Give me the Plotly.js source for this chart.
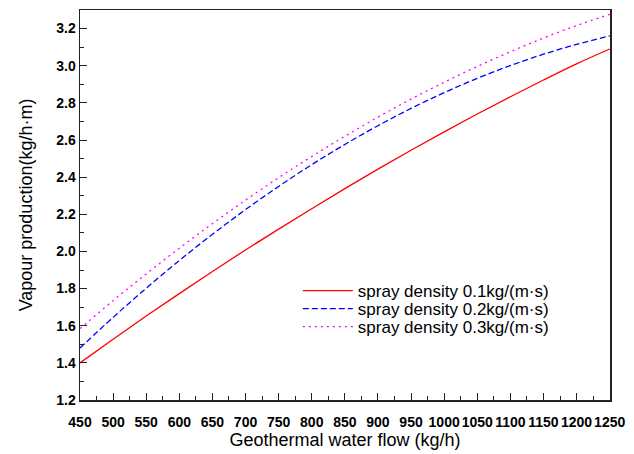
<!DOCTYPE html>
<html>
<head>
<meta charset="utf-8">
<script src="https://cdn.plot.ly/plotly-3.0.1.min.js"></script>
<style>html,body{margin:0;padding:0;background:#fff;}#chart{width:634px;height:454px;}</style>
</head>
<body>
<div id="chart"></div>
<script>
// Data
const flow = [450, 500, 550, 600, 650, 700, 750, 800, 850, 900, 950, 1000, 1050, 1100, 1150, 1200, 1250];
const density01 = [1.400, 1.527, 1.652, 1.773, 1.892, 2.008, 2.120, 2.230, 2.338, 2.443, 2.545, 2.644, 2.740, 2.833, 2.923, 3.010, 3.090];
const density02 = [1.480, 1.645, 1.802, 1.951, 2.092, 2.225, 2.350, 2.467, 2.576, 2.677, 2.770, 2.855, 2.932, 3.001, 3.062, 3.115, 3.160];
const density03 = [1.585, 1.735, 1.879, 2.017, 2.150, 2.276, 2.397, 2.511, 2.620, 2.723, 2.820, 2.911, 2.996, 3.075, 3.149, 3.216, 3.277];
const seriesNames = ["spray density 0.1kg/(m\u00b7s)", "spray density 0.2kg/(m\u00b7s)", "spray density 0.3kg/(m\u00b7s)"];
const xTickVals = [450, 500, 550, 600, 650, 700, 750, 800, 850, 900, 950, 1000, 1050, 1100, 1150, 1200, 1250];
const yTickVals = [1.2, 1.4, 1.6, 1.8, 2.0, 2.2, 2.4, 2.6, 2.8, 3.0, 3.2];
const xTitle = "Geothermal water flow (kg/h)";
const yTitle = "Vapour production(kg/h\u00b7m)";

const FONT = "Liberation Sans, Arial, sans-serif";

const traces = [
  {x: flow, y: density01, name: seriesNames[0], mode: "lines", legend: "legend",
   line: {color: "#ff0000", width: 1.3, shape: "spline"}},
  {x: flow, y: density02, name: seriesNames[1], mode: "lines", legend: "legend2",
   line: {color: "#0000ff", width: 1.3, dash: "6px,3px", shape: "spline"}},
  {x: flow, y: density03, name: seriesNames[2], mode: "lines", legend: "legend3",
   line: {color: "#ff00ff", width: 1.3, dash: "2px,4px", shape: "spline"}}
];

const legendBase = {xanchor: "left", yanchor: "middle", bgcolor: "rgba(0,0,0,0)",
  borderwidth: 0, font: {family: FONT, size: 17, color: "#000"}, itemwidth: 50};

const axisCommon = {
  showline: true, linecolor: "#222", linewidth: 1.5, mirror: true,
  ticks: "inside", ticklen: 7, tickwidth: 1, tickcolor: "#222",
  showgrid: false, zeroline: false, tickangle: 0,
  tickfont: {family: FONT, size: 14, color: "#000", weight: "bold"}
};

const layout = {
  width: 634, height: 454,
  margin: {l: 80, r: 24, t: 10, b: 54},
  paper_bgcolor: "#fff", plot_bgcolor: "#fff",
  font: {family: FONT, color: "#000"},
  xaxis: Object.assign({}, axisCommon, {
    range: [450, 1250.5], tickmode: "array", tickvals: xTickVals,
    ticklabelstandoff: 9,
    minor: {dtick: 25, ticks: "inside", ticklen: 4, tickcolor: "#222"},
    title: {text: xTitle, font: {family: FONT, size: 18, color: "#000"}, standoff: 0},
    automargin: false
  }),
  yaxis: Object.assign({}, axisCommon, {
    range: [1.2, 3.3], tickmode: "array", tickvals: yTickVals,
    tickformat: ".1f",
    minor: {dtick: 0.1, ticks: "inside", ticklen: 4, tickcolor: "#222"},
    title: {text: yTitle, font: {family: FONT, size: 18, color: "#000"}, standoff: 19},
    automargin: false
  }),
  showlegend: true,
  legend: Object.assign({}, legendBase, {x: 0.411, y: 0.2795}),
  legend2: Object.assign({}, legendBase, {x: 0.411, y: 0.2333}),
  legend3: Object.assign({}, legendBase, {x: 0.411, y: 0.187})
};

Plotly.newPlot("chart", traces, layout, {displayModeBar: false, staticPlot: true});
</script>
</body>
</html>
